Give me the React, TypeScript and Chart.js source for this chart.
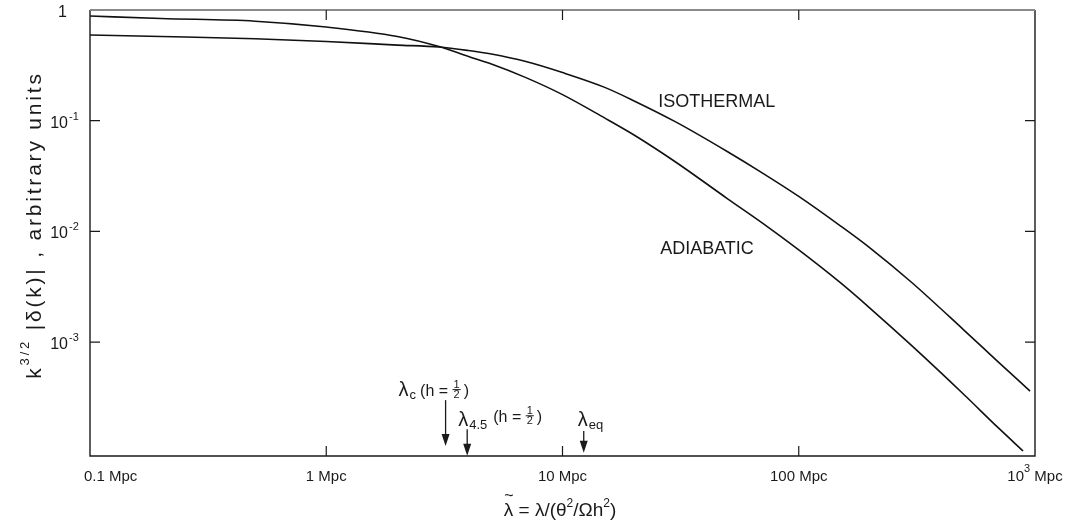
import { useEffect, useRef } from "react";
import { Chart, registerables } from "chart.js";

Chart.register(...registerables);

// Wavelength λ̃ (Mpc) and amplitude k^{3/2}|δ(k)|
const adiabaticLambda = [0.1, 0.2, 0.5, 1, 2, 3, 4, 5, 7, 10, 15, 20, 30, 50, 70, 100, 150, 200, 300, 500, 700, 890];
const adiabaticAmp = [0.882, 0.838, 0.792, 0.702, 0.576, 0.467, 0.38, 0.325, 0.245, 0.172, 0.1065, 0.0747, 0.0426, 0.0197, 0.01194, 0.0068, 0.00344, 0.00203, 0.000933, 0.000336, 0.0001676, 0.0001038];
const isothermalLambda = [0.1, 0.2, 0.5, 1, 2, 3, 4, 5, 7, 10, 15, 20, 30, 50, 70, 100, 150, 200, 300, 500, 700, 953];
const isothermalAmp = [0.594, 0.576, 0.55, 0.519, 0.482, 0.4625, 0.43, 0.4, 0.342, 0.272, 0.201, 0.1517, 0.098, 0.0524, 0.0338, 0.0207, 0.01122, 0.0071, 0.00347, 0.001284, 0.000659, 0.000361];

// Axis ticks
const xTickValues = [0.1, 1, 10, 100, 1000];
const xTickBase = ["0.1", "1", "10", "100", "10"];
const xTickSup = ["", "", "", "", "3"];
const xTickUnit = " Mpc";
const yTickValues = [1, 0.1, 0.01, 0.001];
const yTickBase = ["1", "10", "10", "10"];
const yTickSup = ["", "-1", "-2", "-3"];

const xMin = 0.1;
const xMax = 1000;
const yMin = 9.35e-5;
const yMax = 1;

// Characteristic-scale markers (arrows)
const markerLambda = [3.2, 3.95, 12.3];
const markerTop = [2.99e-4, 1.63e-4, 1.57e-4];
const markerTip = [1.15e-4, 9.4e-5, 1.0e-4];
const markerSub = ["c", "4.5", "eq"];
const markerHalfH = [true, true, false];

// Curve labels
const curveLabels = ["ISOTHERMAL", "ADIABATIC"];
const curveLabelLambda = [25.4, 25.9];
const curveLabelAmp = [0.134, 0.00625];

const FAMILY = '"Liberation Sans", Arial, sans-serif';
const font = (s: number) => `${s}px ${FAMILY}`;
const INK = "#1a1a1a";

type Part = { t: string; size: number; dy?: number };

function richWidth(ctx: CanvasRenderingContext2D, parts: Part[]) {
  let w = 0;
  for (const p of parts) {
    ctx.font = font(p.size);
    w += ctx.measureText(p.t).width;
  }
  return w;
}

function drawRich(ctx: CanvasRenderingContext2D, parts: Part[], x: number, y: number, align: "left" | "center" | "right") {
  const w = richWidth(ctx, parts);
  let cx = align === "left" ? x : align === "center" ? x - w / 2 : x - w;
  ctx.textAlign = "left";
  ctx.textBaseline = "alphabetic";
  for (const p of parts) {
    ctx.font = font(p.size);
    ctx.fillText(p.t, cx, y + (p.dy || 0));
    cx += ctx.measureText(p.t).width;
  }
  return w;
}

function drawHalfH(ctx: CanvasRenderingContext2D, x: number, base: number) {
  ctx.font = font(16);
  ctx.fillText("(h = ", x, base);
  let cx = x + ctx.measureText("(h = ").width;
  ctx.font = font(11);
  const w1 = ctx.measureText("1").width;
  ctx.fillText("1", cx + 1, base - 8.5);
  ctx.fillText("2", cx + 1, base + 1.5);
  ctx.beginPath();
  ctx.lineWidth = 1;
  ctx.moveTo(cx, base - 6.5);
  ctx.lineTo(cx + w1 + 2, base - 6.5);
  ctx.stroke();
  cx += w1 + 5;
  ctx.font = font(16);
  ctx.fillText(")", cx, base);
}

const markerStyle = [
  { dx: -47, dy: -4, subDy: 3, gap: 4, hDy: 0 },
  { dx: -9, dy: -3, subDy: 3, gap: 6, hDy: -4 },
  { dx: -6, dy: -5, subDy: 3, gap: 0, hDy: 0 },
];

const overlay = {
  id: "overlay",
  afterDatasetsDraw(chart: any) {
    const { ctx, chartArea: a } = chart;
    const xs = chart.scales.x;
    const ys = chart.scales.y;
    ctx.save();
    ctx.fillStyle = INK;
    ctx.strokeStyle = INK;

    // frame
    ctx.lineWidth = 1.4;
    ctx.beginPath();
    ctx.moveTo(a.left, a.top);
    ctx.lineTo(a.left, a.bottom);
    ctx.lineTo(a.right, a.bottom);
    ctx.lineTo(a.right, a.top);
    ctx.stroke();
    ctx.strokeStyle = "#8a8a8a";
    ctx.lineWidth = 2;
    ctx.beginPath();
    ctx.moveTo(a.left, a.top);
    ctx.lineTo(a.right, a.top);
    ctx.stroke();
    ctx.strokeStyle = INK;

    // inward ticks
    ctx.lineWidth = 1.2;
    xTickValues.forEach((v) => {
      const px = xs.getPixelForValue(v);
      if (px <= a.left + 1 || px >= a.right - 1) return;
      ctx.beginPath();
      ctx.moveTo(px, a.bottom);
      ctx.lineTo(px, a.bottom - 10);
      ctx.moveTo(px, a.top);
      ctx.lineTo(px, a.top + 10);
      ctx.stroke();
    });
    yTickValues.forEach((v) => {
      const py = ys.getPixelForValue(v);
      if (py <= a.top + 1 || py >= a.bottom - 1) return;
      ctx.beginPath();
      ctx.moveTo(a.left, py);
      ctx.lineTo(a.left + 10, py);
      ctx.moveTo(a.right, py);
      ctx.lineTo(a.right - 10, py);
      ctx.stroke();
    });

    // x tick labels
    xTickValues.forEach((v, i) => {
      const px = xs.getPixelForValue(v);
      const parts: Part[] = [{ t: xTickBase[i], size: 15 }];
      if (xTickSup[i]) parts.push({ t: xTickSup[i], size: 11, dy: -9 });
      parts.push({ t: xTickUnit, size: 15 });
      if (i === 0) drawRich(ctx, parts, px - 6, a.bottom + 25, "left");
      else drawRich(ctx, parts, px, a.bottom + 25, "center");
    });

    // y tick labels
    yTickValues.forEach((v, i) => {
      const py = ys.getPixelForValue(v);
      ctx.font = font(16);
      ctx.textAlign = "right";
      ctx.textBaseline = "alphabetic";
      const baseRight = 68;
      ctx.fillText(yTickBase[i], yTickSup[i] ? baseRight : baseRight - 1, py + 7);
      if (yTickSup[i]) {
        ctx.font = font(11);
        ctx.textAlign = "left";
        ctx.fillText(yTickSup[i], baseRight + 1, py - 1);
      }
    });

    // x axis title
    {
      const parts: Part[] = [
        { t: "λ", size: 19 },
        { t: " = λ/(θ", size: 19 },
        { t: "2", size: 12, dy: -9 },
        { t: "/Ωh", size: 19 },
        { t: "2", size: 12, dy: -9 },
        { t: ")", size: 19 },
      ];
      const w = richWidth(ctx, parts);
      const left = 560 - w / 2;
      const base = 516;
      drawRich(ctx, parts, left, base, "left");
      ctx.font = font(16);
      ctx.fillText("~", left + 0.5, base - 15);
    }

    // y axis title (rotated)
    {
      ctx.save();
      ctx.translate(41, 225);
      ctx.rotate(-Math.PI / 2);
      (ctx as any).letterSpacing = "2.8px";
      const parts: Part[] = [
        { t: "k", size: 21 },
        { t: "3/2", size: 13, dy: -12 },
        { t: " |δ(k)| , arbitrary units", size: 21 },
      ];
      drawRich(ctx, parts, 0, 0, "center");
      (ctx as any).letterSpacing = "0px";
      ctx.restore();
    }

    // curve labels
    curveLabels.forEach((t, i) => {
      ctx.font = font(18);
      ctx.textAlign = "left";
      ctx.textBaseline = "alphabetic";
      ctx.fillText(t, xs.getPixelForValue(curveLabelLambda[i]), ys.getPixelForValue(curveLabelAmp[i]));
    });

    // markers
    markerLambda.forEach((v, i) => {
      const ax = xs.getPixelForValue(v);
      const top = ys.getPixelForValue(markerTop[i]);
      const tip = ys.getPixelForValue(markerTip[i]);
      ctx.lineWidth = 1.3;
      ctx.beginPath();
      ctx.moveTo(ax, top);
      ctx.lineTo(ax, tip - 10);
      ctx.stroke();
      ctx.beginPath();
      ctx.moveTo(ax - 4, tip - 12);
      ctx.lineTo(ax + 4, tip - 12);
      ctx.lineTo(ax, tip);
      ctx.closePath();
      ctx.fill();
      const st = markerStyle[i];
      let cx = ax + st.dx;
      const base = top + st.dy;
      ctx.textAlign = "left";
      ctx.textBaseline = "alphabetic";
      ctx.font = font(20);
      ctx.fillText("λ", cx, base);
      cx += ctx.measureText("λ").width + 1;
      ctx.font = font(13);
      ctx.fillText(markerSub[i], cx, base + st.subDy);
      cx += ctx.measureText(markerSub[i]).width;
      if (markerHalfH[i]) drawHalfH(ctx, cx + st.gap, base + st.hDy);
    });

    ctx.restore();
  },
};

export default function App() {
  const ref = useRef<HTMLCanvasElement | null>(null);
  useEffect(() => {
    if (!ref.current) return;
    const chart = new Chart(ref.current, {
      type: "line",
      data: {
        datasets: [
          {
            label: "Adiabatic",
            data: adiabaticLambda.map((x, i) => ({ x, y: adiabaticAmp[i] })),
            borderColor: "#111",
            borderWidth: 1.6,
            pointRadius: 0,
            cubicInterpolationMode: "monotone",
            fill: false,
          },
          {
            label: "Isothermal",
            data: isothermalLambda.map((x, i) => ({ x, y: isothermalAmp[i] })),
            borderColor: "#111",
            borderWidth: 1.6,
            pointRadius: 0,
            cubicInterpolationMode: "monotone",
            fill: false,
          },
        ],
      },
      options: {
        responsive: false,
        animation: false,
        devicePixelRatio: 1,
        layout: { padding: { left: 90, right: 40, top: 10, bottom: 73 } },
        plugins: { legend: { display: false }, tooltip: { enabled: false } },
        scales: {
          x: { type: "logarithmic", min: xMin, max: xMax, display: false },
          y: { type: "logarithmic", min: yMin, max: yMax, display: false },
        },
      } as any,
      plugins: [overlay],
    });
    return () => chart.destroy();
  }, []);
  return (
    <div style={{ position: "absolute", left: 0, top: 0, width: 1075, height: 529, background: "#fff" }}>
      <canvas ref={ref} width={1075} height={529} style={{ display: "block", width: 1075, height: 529 }} />
    </div>
  );
}
